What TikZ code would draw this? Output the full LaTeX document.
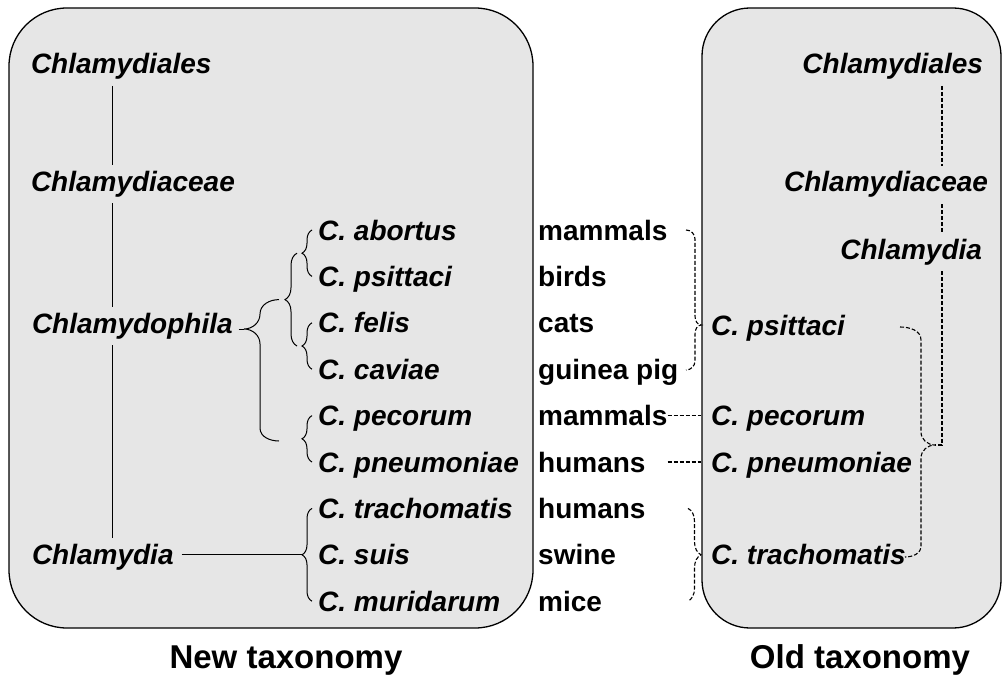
\documentclass[tikz,border=0pt]{standalone}
\usepackage{fontspec}
\setmainfont{Liberation Sans}
\usetikzlibrary{calc,decorations.pathreplacing}
\definecolor{panelgray}{RGB}{230,230,230}

\begin{document}
\begin{tikzpicture}[x=1pt, y=-1pt,
  panel/.style={draw, line width=1.3pt, fill=panelgray},
  taxon/.style={font=\fontsize{28}{32}\selectfont\bfseries\itshape, inner sep=0pt, outer xsep=0pt, outer ysep=6pt, text height=20pt, text depth=6pt},
  spec/.style={font=\fontsize{28}{32}\selectfont\bfseries\itshape, inner sep=0pt, text height=20pt, text depth=0pt, anchor=west},
  host/.style={font=\fontsize{28}{32}\selectfont\bfseries, inner sep=0pt, text height=20pt, text depth=0pt, anchor=west},
  footlbl/.style={font=\fontsize{33}{38}\selectfont\bfseries, inner sep=0pt, anchor=base},
  lnk/.style={line width=1pt},
  dashln/.style={line width=1.1pt, dash pattern=on 4pt off 2pt},
  brc/.style={lnk, decorate, decoration={brace, amplitude=10pt}}]
\useasboundingbox (0,0) rectangle (1003,679);
\node[panel, minimum width=524pt, minimum height=620pt, rounded corners=58pt] (newbox) at (271,318) {};
\node[panel, minimum width=299pt, minimum height=620pt, rounded corners=48pt] (oldbox) at (851.5,318) {};

\node[taxon, anchor=base west] (ord) at (31,74) {Chlamydiales};
\node[taxon, anchor=base west] (fam) at (31,191) {Chlamydiaceae};
\node[taxon, anchor=base west] (phy) at (32,333) {Chlamydophila};
\node[taxon, anchor=base west] (gen) at (32,564) {Chlamydia};

\node[spec] (ab) at (318,230) {C. abortus};
\node[spec] (ps) at (318,276.4) {C. psittaci};
\node[spec] (fe) at (318,322.8) {C. felis};
\node[spec] (ca) at (318,369.2) {C. caviae};
\node[spec] (pe) at (318,415.6) {C. pecorum};
\node[spec] (pn) at (318,462) {C. pneumoniae};
\node[spec] (tr) at (318,508.4) {C. trachomatis};
\node[spec] (su) at (318,554.8) {C. suis};
\node[spec] (mu) at (318,601.2) {C. muridarum};

\node[host] (h1) at (538,230) {mammals};
\node[host] (h2) at (538,276.4) {birds};
\node[host] (h3) at (538,322.8) {cats};
\node[host] (h4) at (538,369.2) {guinea pig};
\node[host] (h5) at (538,415.6) {mammals};
\node[host] (h6) at (538,462) {humans};
\node[host] (h7) at (538,508.4) {humans};
\node[host] (h8) at (538,554.8) {swine};
\node[host] (h9) at (538,601.2) {mice};

\node[taxon, anchor=base east] (ord2) at (983,74) {Chlamydiales};
\node[taxon, anchor=base east] (fam2) at (988,192) {Chlamydiaceae};
\node[taxon, anchor=base east] (gen2) at (982,259) {Chlamydia};
\node[spec] (rps) at (711,325) {C. psittaci};
\node[spec] (rpe) at (711,415.6) {C. pecorum};
\node[spec] (rpn) at (711,462) {C. pneumoniae};
\node[spec] (rtr) at (711,554.8) {C. trachomatis};

\node[footlbl] (newlbl) at (286,668) {New taxonomy};
\node[footlbl] (oldlbl) at (860,668) {Old taxonomy};

\coordinate (lv) at (112,0);
\coordinate (rv) at (942,0);
\coordinate (tA) at ($(ab.west)!.5!(ps.west)+(-16,0)$);
\coordinate (tC) at ($(fe.west)!.5!(ca.west)+(-16,0)$);
\coordinate (tE) at ($(pe.west)!.5!(pn.west)+(-16,0)$);
\coordinate (tT) at ($(tr.west)!.5!(mu.west)+(-16,0)$);
\coordinate (tB) at ($(tA)!.5!(tC)+(-17,0)$);
\coordinate (tD) at (244,329);
\coordinate (tF) at (oldbox.west |- rps.west);
\coordinate (tH) at (935,445);

\draw[lnk] (lv |- ord.south) -- (lv |- fam.north);
\draw[lnk] (lv |- fam.south) -- (lv |- phy.north);
\draw[lnk] (lv |- phy.south) -- (lv |- gen.north);
\draw[lnk, shorten <=8pt] (gen.east |- tT) -- (tT);
\draw[brc] ([xshift=-6pt]ps.west) -- ([xshift=-6pt]ab.west);
\draw[brc] ([xshift=-6pt]ca.west) -- ([xshift=-6pt]fe.west);
\draw[brc] ([xshift=-6pt]pn.west) -- ([xshift=-6pt]pe.west);
\draw[brc] ([xshift=-6pt]mu.west) -- ([xshift=-6pt]tr.west);
\draw[brc, decoration={brace, amplitude=12pt}] ([xshift=-5pt]tC) -- ([xshift=-5pt]tA);
\draw[lnk] ([xshift=-6pt]tB) to[out=180,in=90] (260,314) to[out=-90,in=0] (tD) to[out=0,in=90] (260,344) -- (260,428) to[out=-90,in=180] (279,441);
\draw[lnk, shorten <=6pt] (phy.east |- tD) -- (tD);

\draw[dashln] (rv |- ord2.south) -- (rv |- fam2.north);
\draw[dashln] (rv |- fam2.south) -- (rv |- gen2.north);
\draw[dashln] (rv |- gen2.south) -- (rv |- tH) -- (tH);
\draw[dashln] (900,327) to[out=0,in=90] (921,340) -- (921,432) to[out=-90,in=180] (tH) to[out=180,in=90] (921,458) -- (921,546) to[out=-90,in=0] (905,557);
\draw[dashln] (686,230) to[out=0,in=90] (695,239) -- (695,316) to[out=-90,in=180] (tF) to[out=180,in=90] (695,334) -- (695,361) to[out=-90,in=0] (686,370);
\draw[dashln] (h5.east) -- (oldbox.west |- rpe.west);
\draw[dashln] (h5.east |- h6.east) -- (oldbox.west |- rpn.west);
\draw[dashln, decorate, decoration={brace, amplitude=13pt}] (688,508.4) -- (688,601.2);
\end{tikzpicture}
\end{document}
